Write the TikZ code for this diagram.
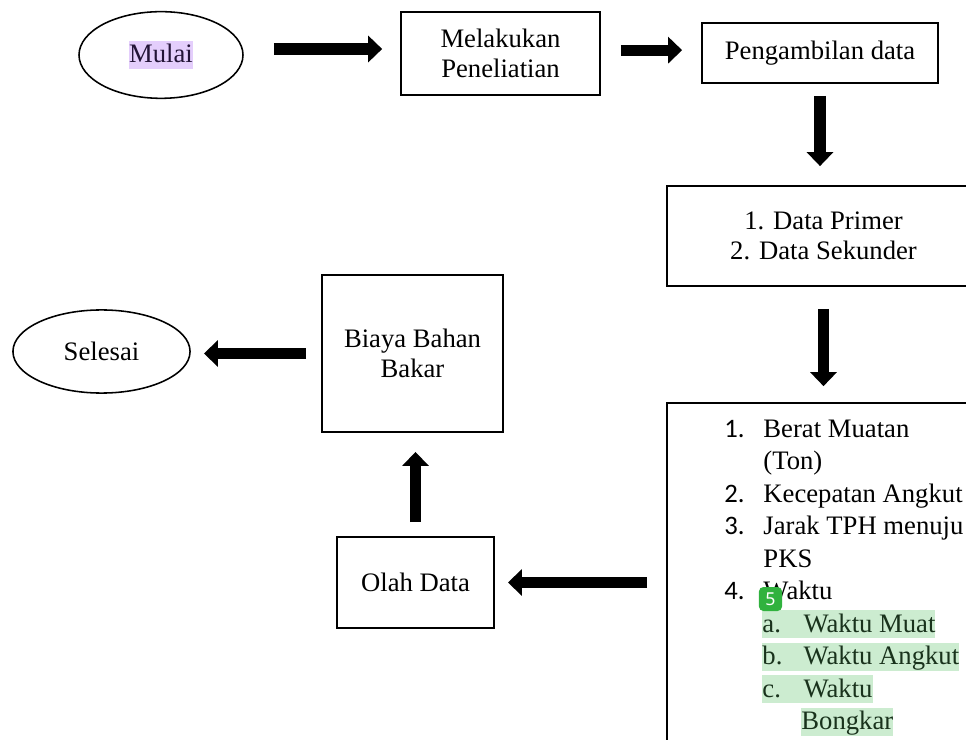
\documentclass[tikz,border=0pt]{standalone}
\usepackage{fontspec}
\setmainfont{Liberation Serif}
\newfontfamily\numfont{Carlito}
\newfontfamily\badgefont{Noto Sans}
\usepackage{xcolor}
\definecolor{mulaihl}{RGB}{228,206,252}
\definecolor{mulaitext}{RGB}{35,20,55}
\definecolor{itemhl}{RGB}{204,236,208}
\definecolor{itemtext}{RGB}{25,50,28}
\definecolor{badgecolour}{RGB}{48,178,62}
\usetikzlibrary{shapes.geometric, arrows.meta}
\newcommand{\bodysize}{\fontsize{12pt}{13.5pt}\selectfont}
\newcommand{\hlmulai}[1]{{\setlength{\fboxsep}{0pt}\colorbox{mulaihl}{\vrule height 9.9pt depth 2.7pt width 0pt\textcolor{mulaitext}{#1}}}}
\tikzstyle{startstop} = [ellipse, draw=black, line width=0.7pt]
\tikzstyle{process} = [rectangle, draw=black, line width=0.7pt, align=center]
\tikzstyle{listline} = [anchor=base west, inner sep=0pt]
\tikzstyle{hlline} = [listline, fill=itemhl, text=itemtext, text height=9.9pt, text depth=2.7pt]
\tikzstyle{arrow} = [line width=5pt, -{Triangle[width=11.7pt,length=6.3pt]}]

\begin{document}
\begin{tikzpicture}[x=0.45pt, y=-0.45pt, font=\bodysize]
	\useasboundingbox (0,0) rectangle (966,740);
	\clip (0,0) rectangle (966,740);
	\node (mulai) [startstop, minimum width=73.8pt, minimum height=39pt] at (161,55) {\hlmulai{Mulai}};
	\node (penelitian) [process, minimum width=89.6pt, minimum height=37.4pt] at (500.5,53.5) {Melakukan\\Peneliatian};
	\node (pengambilan) [process, minimum width=106.2pt, minimum height=27pt] at (820,53) {Pengambilan data};
	\node (jenisdata) [process, minimum width=140.9pt, minimum height=45pt] at (823.5,236) {1. Data Primer\\2. Data Sekunder};
	\node (variabel) [process, minimum width=145.4pt, minimum height=169.7pt] at (828.5,591.5) {};
	\node (olah) [process, minimum width=70.7pt, minimum height=41pt] at (415.5,582.5) {Olah Data};
	\node (biaya) [process, minimum width=81.5pt, minimum height=70.7pt] at (412.5,353.5) {Biaya Bahan\\Bakar};
	\node (selesai) [startstop, minimum width=79.7pt, minimum height=37.4pt] at (101.5,351.5) {Selesai};
	\foreach \n/\y in {1/437, 2/502, 3/534.5, 4/599.5}
		\node (num\n) [listline, font=\bodysize\numfont] at (724,\y) {\n.};
	\node (item1) [listline] at (763,437) {Berat Muatan};
	\node (item1b) [listline] at (763,469.5) {(Ton)};
	\node (item2) [listline] at (763,502) {Kecepatan Angkut};
	\node (item3) [listline] at (763,534.5) {Jarak TPH menuju};
	\node (item3b) [listline] at (763,567) {PKS};
	\node (item4) [listline] at (763,599.5) {Waktu};
	\node (item4a) [hlline] at (762,632) {\makebox[18.5pt][l]{a.}Waktu Muat};
	\node (item4b) [hlline] at (762,664.5) {\makebox[18.5pt][l]{b.}Waktu Angkut};
	\node (item4c) [hlline] at (762,697) {\makebox[18.5pt][l]{c.}Waktu};
	\node (item4cb) [hlline] at (801,729.5) {Bongkar};
	\node (badge) [fill=badgecolour, rounded corners=2pt, text=white, font=\badgefont\fontsize{8pt}{9pt}\selectfont, minimum width=10.4pt, minimum height=10.8pt, inner sep=0pt] at (770.5,599) {5};
	\draw [arrow, shorten <=13.5pt, shorten >=8.1pt] ([yshift=2.7pt]mulai.east) -- ([yshift=2.7pt]mulai.east -| penelitian.west);
	\draw [arrow, shorten <=9pt, shorten >=8.6pt] ([yshift=1.5pt]penelitian.east) -- ([yshift=1.5pt]penelitian.east -| pengambilan.west);
	\draw [arrow, shorten <=5.4pt, shorten >=8.6pt] (pengambilan.south) -- (pengambilan.south |- jenisdata.north);
	\draw [arrow, shorten <=9.9pt, shorten >=7.2pt] (jenisdata.south) -- (jenisdata.south |- variabel.north);
	\draw [arrow, shorten <=8.6pt, shorten >=5.9pt] (olah -| variabel.west) -- (olah.east);
	\draw [arrow, shorten <=6.3pt, shorten >=8.6pt] (olah.north) -- (olah.north |- biaya.south);
	\draw [arrow, shorten <=6.8pt, shorten >=5.9pt] (biaya.west) -- (biaya.west -| selesai.east);
\end{tikzpicture}
\end{document}
